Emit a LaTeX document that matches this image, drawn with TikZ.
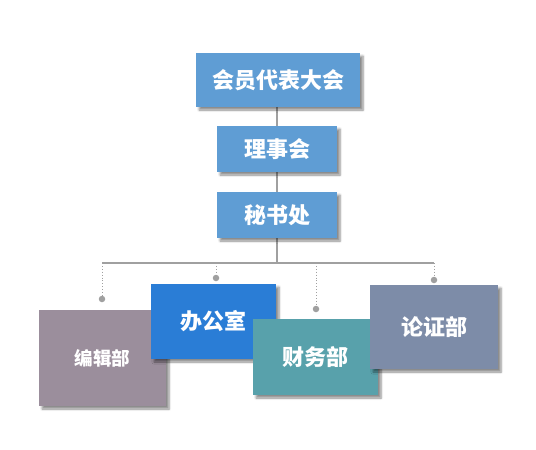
\documentclass[tikz,border=0pt]{standalone}
\usepackage{fontspec}
\setmainfont{Noto Sans CJK SC}
\usetikzlibrary{shadows.blur}
\definecolor{topblue}{HTML}{5F9DD4}
\definecolor{offblue}{HTML}{2A7DD6}
\definecolor{editgray}{HTML}{9B8E9C}
\definecolor{finteal}{HTML}{58A1AB}
\definecolor{argblue}{HTML}{7D8CA8}
\definecolor{linegray}{HTML}{A0A0A0}
\tikzset{
  box/.style={rectangle, inner sep=0pt, text=white,
    font=\bfseries\fontsize{22}{22}\selectfont,
    blur shadow={shadow xshift=3pt, shadow yshift=-3pt, shadow blur steps=6, shadow opacity=45}},
  conn/.style={draw=linegray, line width=1.5pt},
  dots/.style={draw=linegray, line width=0.9pt, dotted},
  pin/.style={circle, fill=linegray, inner sep=0pt, minimum size=6.5pt},
}
\begin{document}
\begin{tikzpicture}[x=1pt,y=-1pt]
\useasboundingbox (0,0) rectangle (536,450);
% connectors
\coordinate (j) at (277,263);
\coordinate (hl) at (102,263);
\coordinate (hr) at (434,263);
\coordinate (t2) at (216,263);
\coordinate (t3) at (316,263);
\node[pin] (d1) at (102,299) {};
\node[pin] (d2) at (216,278) {};
\node[pin] (d3) at (316,309) {};
\node[pin] (d4) at (434,280) {};
\draw[conn] (277,107) -- (j);
\draw[conn] (hl) -- (hr);
\draw[dots] (hl) -- (d1);
\draw[dots] (t2) -- (d2);
\draw[dots] (t3) -- (d3);
\draw[dots] (hr) -- (d4);
% top boxes
\node[box, fill=topblue, minimum width=164pt, minimum height=54pt] (a) at (278,80) {会员代表大会};
\node[box, fill=topblue, minimum width=120pt, minimum height=46pt] (b) at (277,149) {理事会};
\node[box, fill=topblue, minimum width=120pt, minimum height=46pt] (c) at (277,215) {秘书处};
% departments
\node[box, fill=editgray, minimum width=127pt, minimum height=96pt, font=\bfseries\fontsize{18.5}{18.5}\selectfont] (e) at (102.5,358) {编辑部};
\node[box, fill=offblue, minimum width=125pt, minimum height=75pt] (o) at (213.5,321.5) {办公室};
\node[box, fill=finteal, minimum width=125pt, minimum height=76pt] (f) at (315.5,357) {财务部};
\node[box, fill=argblue, minimum width=128pt, minimum height=84pt] (g) at (434,327) {论证部};
\end{tikzpicture}
\end{document}
